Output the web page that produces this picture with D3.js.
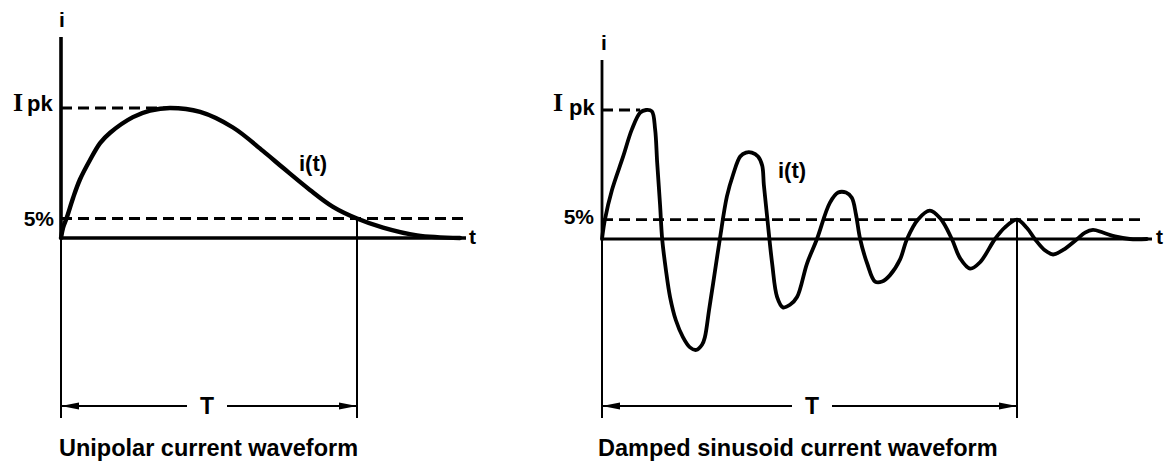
<!DOCTYPE html>
<html><head><meta charset="utf-8">
<script src="https://cdn.jsdelivr.net/npm/d3@7"></script>
<style>body{margin:0;background:#fff}svg{display:block}</style>
</head><body>
<svg id="c" width="1164" height="462"></svg>
<script>
// ---- data (normalized: current 1 = Ipk, time 100 = T) ----
const unipolarTime    = [0, 0.7, 2.0, 4.1, 6.4, 9.8, 13.2, 16.6, 24.3, 30.1, 36.8, 47.0, 58.1, 68.2, 75.0, 84.1, 91.9, 100, 108.8, 120.3, 134.8];
const unipolarCurrent = [0, 0.08, 0.16, 0.31, 0.45, 0.60, 0.73, 0.81, 0.93, 0.98, 1.00, 0.97, 0.85, 0.67, 0.54, 0.37, 0.24, 0.15, 0.08, 0.02, 0];

const dampedTime = [0, 0.7, 2.4, 5.1, 7.2, 9.2, 10.6, 12.0, 12.8, 13.3, 14.0, 14.5, 15.4, 16.4, 17.8, 19.5, 21.2, 22.7, 24.1, 24.8, 25.8, 26.8, 28.4, 30.1, 31.6, 33.3, 34.7, 36.1, 37.6, 38.6, 39.0, 39.8, 41.0, 42.2, 43.6, 45.3, 47.0, 49.4, 51.8, 54.9, 56.9, 58.8, 60.2, 61.2, 62.2, 63.9, 65.8, 67.5, 69.4, 71.8, 73.5, 76.1, 79.0, 81.5, 84.3, 86.3, 88.7, 91.1, 94.7, 97.1, 100, 102.4, 104.3, 106.8, 108.7, 111.1, 114.5, 116.4, 118.3, 120.7, 123.6, 127.2, 131.3];
const dampedCurrent = [0, 0.15, 0.38, 0.64, 0.85, 0.98, 1.00, 0.99, 0.85, 0.59, 0.26, 0, -0.24, -0.45, -0.63, -0.76, -0.84, -0.86, -0.82, -0.76, -0.55, -0.34, 0, 0.33, 0.50, 0.64, 0.67, 0.67, 0.64, 0.57, 0.42, 0.17, -0.19, -0.45, -0.53, -0.51, -0.45, -0.19, 0, 0.28, 0.36, 0.36, 0.32, 0.19, 0, -0.19, -0.33, -0.33, -0.28, -0.16, 0, 0.15, 0.22, 0.16, 0, -0.15, -0.23, -0.18, 0, 0.09, 0.15, 0.085, 0, -0.09, -0.12, -0.085, 0, 0.05, 0.07, 0.05, 0.02, 0, 0];

const peakLevel = 1;
const thresholdLevel = 0.15;      // the "5%" line as drawn
const periodEnd = 100;            // T
const titles = ["Unipolar current waveform", "Damped sinusoid current waveform"];
const curveLabel = "i(t)";
const thresholdLabel = "5%";

// ---- layout ----
const svg = d3.select("#c");
const defs = svg.append("defs");
defs.append("marker").attr("id","arrL").attr("viewBox","0 0 18 10").attr("refX",0).attr("refY",5)
  .attr("markerWidth",18).attr("markerHeight",10).attr("markerUnits","userSpaceOnUse").attr("orient","auto")
  .append("path").attr("d","M0,5 L18,1.5 L18,8.5 Z").attr("fill","#000");
defs.append("marker").attr("id","arrR").attr("viewBox","0 0 18 10").attr("refX",18).attr("refY",5)
  .attr("markerWidth",18).attr("markerHeight",10).attr("markerUnits","userSpaceOnUse").attr("orient","auto")
  .append("path").attr("d","M18,5 L0,1.5 L0,8.5 Z").attr("fill","#000");

const panels = [
  { t: unipolarTime, i: unipolarCurrent, x0: 61, x1: 357, yBase: 238, yPk: 108, axisTop: 37,
    dashEnd: 463, baseEnd: 466, axisW: 3.6, baseW: 3.4, curveW: 4.4,
    iLab:[62,27], pkSerif:[13,111], pkSans:[27,111], fiveLab:[54,226], itLab:[299,171], tLab:[469,244],
    title:[59,456], pkDashEnd: 36.8, Tcx: 205 },
  { t: dampedTime, i: dampedCurrent, x0: 602, x1: 1017, yBase: 239, yPk: 110, axisTop: 60,
    dashEnd: 1143, baseEnd: 1152, axisW: 2.8, baseW: 3, curveW: 3.8,
    iLab:[604,50], pkSerif:[553,111], pkSans:[569,115], fiveLab:[594,224], itLab:[778,178], tLab:[1156,244],
    title:[598,456], pkDashEnd: 9.2, Tcx: 810 }
];
const arrowY = 406, dropBottom = 418;
const sans = "'Liberation Sans', Arial, sans-serif";
const serif = "'Liberation Serif', 'Times New Roman', serif";

panels.forEach((p, k) => {
  const x = d3.scaleLinear().domain([0, periodEnd]).range([p.x0, p.x1]);
  const y = d3.scaleLinear().domain([0, peakLevel]).range([p.yBase, p.yPk]);
  const g = svg.append("g");

  // dashed reference lines
  g.append("line").attr("x1", x(0)).attr("x2", x(p.pkDashEnd)).attr("y1", y(peakLevel)).attr("y2", y(peakLevel))
    .attr("stroke","#000").attr("stroke-width",2.8).attr("stroke-dasharray","11,6");
  g.append("line").attr("x1", x(0)).attr("x2", p.dashEnd).attr("y1", y(thresholdLevel)).attr("y2", y(thresholdLevel))
    .attr("stroke","#000").attr("stroke-width",2.8).attr("stroke-dasharray","11,6");

  // axes
  g.append("line").attr("x1", x(0)).attr("x2", x(0)).attr("y1", p.axisTop).attr("y2", y(0))
    .attr("stroke","#000").attr("stroke-width", p.axisW);
  g.append("line").attr("x1", x(0)).attr("x2", p.baseEnd).attr("y1", y(0)).attr("y2", y(0))
    .attr("stroke","#000").attr("stroke-width", p.baseW);

  // drop lines for T
  g.append("line").attr("x1", x(0)).attr("x2", x(0)).attr("y1", y(0)).attr("y2", dropBottom)
    .attr("stroke","#000").attr("stroke-width",2);
  g.append("line").attr("x1", x(periodEnd)).attr("x2", x(periodEnd)).attr("y1", y(thresholdLevel)).attr("y2", dropBottom)
    .attr("stroke","#000").attr("stroke-width",2);

  // T arrow
  const gap = 18;
  g.append("line").attr("x1", x(0)).attr("x2", p.Tcx - gap).attr("y1", arrowY).attr("y2", arrowY)
    .attr("stroke","#000").attr("stroke-width",2.2).attr("marker-start","url(#arrL)");
  g.append("line").attr("x1", p.Tcx + gap + 4).attr("x2", x(periodEnd)).attr("y1", arrowY).attr("y2", arrowY)
    .attr("stroke","#000").attr("stroke-width",2.2).attr("marker-end","url(#arrR)");
  g.append("text").attr("x", p.Tcx + 2).attr("y", arrowY + 8).attr("text-anchor","middle")
    .attr("font-family", sans).attr("font-weight","bold").attr("font-size",23).text("T");

  // curve
  const pts = p.t.map((tv, j) => [tv, p.i[j]]);
  const line = d3.line().x(d => x(d[0])).y(d => y(d[1])).curve(d3.curveCatmullRom.alpha(0.5));
  g.append("path").attr("d", line(pts)).attr("fill","none").attr("stroke","#000")
    .attr("stroke-width", p.curveW).attr("stroke-linejoin","round").attr("stroke-linecap","round");

  // labels
  const txt = (pos, s, size, fam, weight, anchor) => g.append("text").attr("x", pos[0]).attr("y", pos[1])
    .attr("font-family", fam).attr("font-weight", weight).attr("font-size", size)
    .attr("text-anchor", anchor || "start").text(s);
  txt(p.iLab, "i", 21, sans, "bold", "middle");
  txt(p.pkSerif, "I", 26, serif, "bold");
  txt(p.pkSans, "pk", 22, sans, "bold");
  txt(p.fiveLab, thresholdLabel, 21, sans, "bold", "end");
  txt(p.itLab, curveLabel, 22, sans, "bold");
  txt(p.tLab, "t", 21, sans, "bold");
  txt(p.title, titles[k], 23.5, sans, "bold");
});
</script>
</body></html>
